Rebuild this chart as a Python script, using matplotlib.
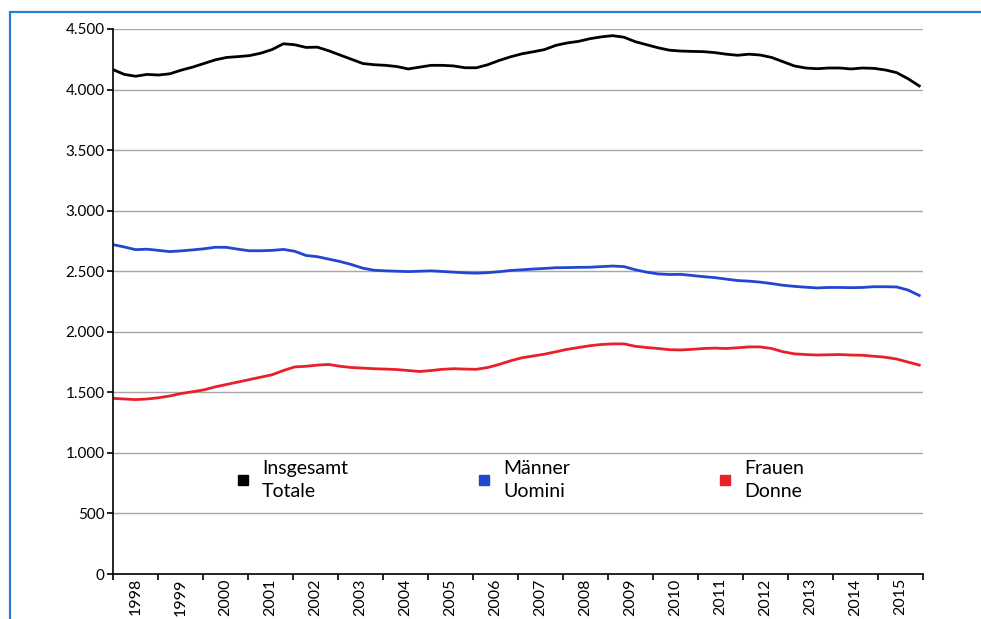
import numpy as np
import matplotlib
matplotlib.use("Agg")
import matplotlib.pyplot as plt
from matplotlib.patches import Rectangle
from matplotlib.ticker import FuncFormatter

plt.rcParams["font.family"] = ["Lato", "DejaVu Sans"]

years = [str(y) for y in range(1998, 2016)]

# quarterly readings, 1998 Q1 .. 2015 Q4
totale = [4165, 4125, 4110, 4125, 4120, 4130, 4160, 4185, 4215, 4245, 4265, 4272,
          4280, 4300, 4330, 4378, 4370, 4348, 4350, 4320, 4285, 4250, 4215, 4205,
          4200, 4190, 4170, 4185, 4200, 4200, 4195, 4180, 4180, 4205, 4240, 4270,
          4295, 4312, 4330, 4365, 4385, 4398, 4420, 4435, 4445, 4432, 4395, 4370,
          4345, 4325, 4318, 4315, 4313, 4305, 4292, 4283, 4292, 4285, 4265, 4230,
          4195, 4178, 4172, 4178, 4178, 4170, 4178, 4175, 4162, 4140, 4090, 4030]

uomini = [2720, 2700, 2678, 2682, 2672, 2662, 2668, 2676, 2685, 2698, 2697, 2682,
          2669, 2669, 2672, 2680, 2665, 2630, 2620, 2600, 2580, 2555, 2525, 2508,
          2503, 2500, 2497, 2500, 2503, 2498, 2492, 2487, 2484, 2488, 2496, 2506,
          2512, 2518, 2523, 2529, 2530, 2532, 2533, 2538, 2543, 2538, 2512, 2492,
          2478, 2473, 2474, 2465, 2455, 2447, 2435, 2423, 2418, 2410, 2398, 2384,
          2375, 2368, 2362, 2366, 2366, 2364, 2366, 2372, 2372, 2370, 2345, 2300]

donne = [1450, 1445, 1440, 1445, 1455, 1470, 1490, 1505, 1520, 1545, 1565, 1585,
         1605, 1625, 1645, 1680, 1710, 1715, 1725, 1730, 1715, 1705, 1700, 1695,
         1692, 1688, 1680, 1672, 1680, 1690, 1695, 1692, 1690, 1705, 1730, 1760,
         1785, 1800, 1815, 1835, 1855, 1870, 1885, 1895, 1900, 1900, 1880, 1870,
         1862, 1852, 1850, 1855, 1862, 1865, 1862, 1868, 1875, 1875, 1862, 1835,
         1818, 1812, 1808, 1810, 1812, 1808, 1806, 1798, 1790, 1775, 1750, 1725]

labels = ["Insgesamt\nTotale", "Männer\nUomini", "Frauen\nDonne"]
colors = ["#000000", "#2346cf", "#e8202a"]

fig = plt.figure(figsize=(9.81, 6.19), dpi=100)
ax = fig.add_axes([113 / 981, 1 - 574 / 619, 810 / 981, 545 / 619])

# blue frame around the chart area
fig.patches.append(Rectangle((9.5 / 981, -0.05), 1.1, 1.05 - 11.5 / 619,
                             transform=fig.transFigure, fill=False,
                             edgecolor="#2a7fd0", lw=1.6))

x = np.linspace(0, 215 / 12, len(totale))
for series, c in zip([totale, uomini, donne], colors):
    ax.plot(x, series, color=c, lw=2.0, solid_joinstyle="round")

ax.set_xlim(0, 18)
ax.set_ylim(0, 4500)
ax.set_yticks(np.arange(0, 4501, 500))
ax.yaxis.set_major_formatter(FuncFormatter(lambda v, p: f"{int(v):,}".replace(",", ".")))
ax.grid(axis="y", color="#a8a8a8", lw=1)
ax.set_axisbelow(True)

ax.set_xticks(np.arange(0, 19))
ax.set_xticklabels([])
ax.set_xticks(np.arange(0.5, 18), minor=True)
ax.set_xticklabels(years, minor=True, rotation=90, fontsize=11.5)
ax.tick_params(axis="x", which="minor", length=0, pad=3)
ax.tick_params(axis="x", which="major", length=4, width=1.2)
ax.tick_params(axis="y", length=4, width=1.2, pad=2, labelsize=11)

for s in ["top", "right"]:
    ax.spines[s].set_visible(False)
for s in ["left", "bottom"]:
    ax.spines[s].set_linewidth(1.2)

# legend drawn by hand so the three entries are evenly spaced
for i, (lab, c) in enumerate(zip(labels, colors)):
    x0 = 0.1605 + i * 0.2975
    ax.plot([x0], [0.1725], marker="s", ms=6.5, color=c, ls="none",
            transform=ax.transAxes, clip_on=False)
    ax.text(x0 + 0.0235, 0.1725, lab, transform=ax.transAxes, va="center",
            ha="left", fontsize=14, linespacing=1.42)

fig.savefig("out.png", dpi=100)
